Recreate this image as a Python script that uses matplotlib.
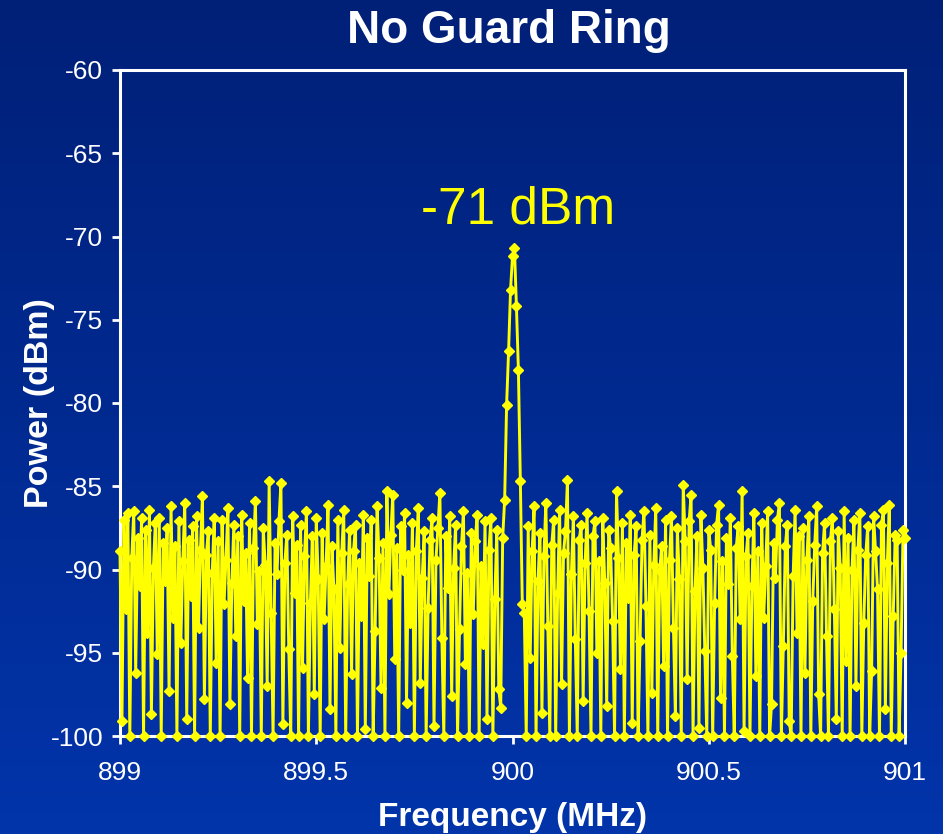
import numpy as np
import matplotlib
matplotlib.use('Agg')
import matplotlib.pyplot as plt

plt.rcParams['font.family'] = ['Liberation Sans', 'DejaVu Sans']
plt.rcParams['axes.unicode_minus'] = False

# Spectrum sweep 899-901 MHz, 401 points
freq_start = 899.0
freq_stop = 901.0
power_dbm = [
    -88.9, -99.1, -87.0, -92.4, -86.6, -100, -89.3, -86.5, -96.2, -88.1, -91.0, -86.9, -100, -87.6, -93.8, -86.4, -98.7, -89.9, -87.2, -95.1,
    -86.9, -100, -88.4, -90.7, -87.5, -97.3, -86.2, -92.9, -88.6, -100, -87.1, -94.4, -89.5, -86.0, -99.0, -88.2, -91.6, -87.4, -100, -86.8,
    -93.5, -88.8, -85.6, -97.8, -89.1, -87.7, -100, -90.2, -86.9, -95.6, -88.3, -100, -87.0, -92.1, -89.4, -86.3, -98.1, -90.8, -87.3, -94.0,
    -88.0, -100, -86.7, -91.9, -89.0, -96.5, -87.2, -100, -88.7, -85.9, -93.3, -90.1, -100, -87.5, -89.7, -97.0, -84.7, -92.6, -100, -88.4,
    -90.3, -87.1, -84.8, -99.3, -89.6, -87.9, -94.8, -100, -86.8, -91.4, -88.5, -100, -87.3, -95.9, -89.2, -86.5, -100, -92.0, -88.0, -97.5,
    -86.9, -90.6, -100, -87.8, -93.0, -89.8, -86.1, -98.4, -88.6, -91.2, -100, -87.0, -94.7, -89.0, -86.4, -100, -90.9, -87.6, -96.3, -88.9,
    -87.3, -100, -89.6, -92.8, -86.7, -99.6, -88.1, -90.4, -87.0, -100, -93.7, -86.2, -89.3, -97.1, -88.4, -100, -85.3, -91.5, -87.9, -85.5,
    -95.4, -88.7, -100, -87.4, -90.0, -86.6, -98.0, -89.1, -93.2, -87.2, -100, -88.9, -86.3, -96.8, -90.5, -87.7, -100, -92.3, -88.2, -86.9,
    -99.4, -89.4, -87.5, -85.4, -94.1, -100, -88.0, -91.1, -86.8, -97.6, -89.9, -87.3, -100, -93.6, -88.6, -86.5, -95.7, -90.2, -100, -87.8,
    -92.7, -88.3, -86.7, -100, -89.8, -94.5, -87.1, -99.0, -88.8, -86.9, -100, -91.8, -87.6, -97.2, -98.3, -88.1, -85.8, -80.1, -76.9, -73.2,
    -71.2, -70.7, -74.2, -78.0, -84.7, -92.1, -92.6, -100, -87.4, -95.3, -88.9, -86.2, -100, -90.7, -87.8, -98.6, -89.2, -86.0, -93.4, -100,
    -88.5, -87.0, -100, -91.4, -86.4, -96.9, -89.0, -87.7, -84.6, -100, -90.3, -86.8, -94.2, -100, -88.2, -87.3, -97.9, -89.6, -86.6, -92.5,
    -100, -88.0, -87.1, -95.0, -89.5, -100, -86.9, -90.8, -98.2, -87.6, -88.7, -93.1, -100, -85.3, -89.3, -96.0, -87.2, -100, -88.4, -91.7,
    -86.7, -99.2, -89.1, -87.4, -100, -94.3, -88.2, -86.5, -92.2, -100, -87.9, -97.4, -89.7, -86.3, -100, -90.1, -88.6, -95.8, -87.0, -100,
    -89.4, -86.8, -93.5, -98.8, -87.5, -90.6, -100, -84.9, -88.3, -96.6, -87.1, -85.5, -100, -91.3, -88.0, -99.5, -86.7, -89.9, -94.9, -100,
    -87.6, -88.8, -100, -92.0, -87.3, -86.1, -97.7, -89.5, -100, -88.1, -90.9, -86.9, -95.2, -100, -88.7, -87.4, -93.0, -85.3, -99.7, -89.2,
    -87.8, -100, -91.0, -86.6, -96.4, -88.9, -100, -87.2, -92.9, -89.8, -86.5, -100, -98.1, -88.4, -90.5, -87.0, -86.0, -100, -94.6, -88.6,
    -87.3, -99.1, -100, -90.4, -86.4, -93.8, -88.0, -100, -87.5, -96.2, -89.4, -86.8, -100, -91.9, -88.5, -86.2, -97.5, -100, -89.0, -87.2,
    -94.0, -100, -88.3, -86.9, -92.4, -99.0, -87.7, -89.9, -100, -86.5, -95.5, -88.1, -100, -90.0, -87.0, -97.0, -88.8, -86.6, -100, -93.2,
    -89.1, -87.4, -100, -96.1, -86.8, -88.9, -91.2, -100, -87.3, -86.4, -98.4, -89.6, -86.1, -100, -92.8, -87.9, -88.2, -100, -95.0, -87.6,
    -88.1,
]
freq_mhz = np.linspace(freq_start, freq_stop, len(power_dbm))

x_ticks = [899, 899.5, 900, 900.5, 901]
x_tick_labels = ['899', '899.5', '900', '900.5', '901']
y_ticks = [-100, -95, -90, -85, -80, -75, -70, -65, -60]

W, H = 943, 834
fig = plt.figure(figsize=(W / 100, H / 100), dpi=100)

# blue slide background, darker at the top
bg = fig.add_axes([0, 0, 1, 1], zorder=-10)
top = np.array([0, 32, 120]) / 255
bottom = np.array([2, 52, 170]) / 255
t = np.linspace(0, 1, 256)[:, None]
grad = top[None, :] * (1 - t) + bottom[None, :] * t
bg.imshow(grad[:, None, :], aspect='auto', extent=[0, 1, 0, 1])
bg.axis('off')

ax = fig.add_axes([120 / W, 1 - 736 / H, 785 / W, 666 / H])
ax.set_facecolor('none')

ax.plot(freq_mhz, power_dbm, color='#ffff00', lw=2.1, marker='D', ms=5.5,
        mec='#ffff00', mfc='#ffff00', clip_on=False, zorder=3)

ax.set_xlim(freq_start, freq_stop)
ax.set_ylim(-100, -60)
ax.set_xticks(x_ticks)
ax.set_xticklabels(x_tick_labels)
ax.set_yticks(y_ticks)

for side in ['left', 'right', 'top', 'bottom']:
    ax.spines[side].set_color('white')
    ax.spines[side].set_linewidth(2.2)
    ax.spines[side].set_zorder(2)
ax.tick_params(colors='white', labelsize=19, width=2, length=6, direction='out')
ax.tick_params(axis='x', pad=12)
ax.tick_params(axis='y', pad=6)

ax.set_xlabel('Frequency (MHz)', color='white', fontsize=24, fontweight='bold', labelpad=12)
ax.set_ylabel('Power (dBm)', color='white', fontsize=24.5, fontweight='bold')
ax.yaxis.set_label_coords(-0.083, 0.5)

fig.text(0.5 * (120 + 905) / W - 0.004, 1 - 31 / H, 'No Guard Ring', color='white',
         fontsize=33, fontweight='bold', ha='center', va='center')

# label the carrier with its peak level
peak_idx = int(np.argmax(power_dbm))
peak_val = power_dbm[peak_idx]
ax.text(freq_mhz[peak_idx] + 0.01, peak_val + 2.3, f'{round(peak_val)} dBm',
        color='#ffff00', fontsize=37, ha='center', va='center')

fig.savefig('out.png', dpi=100)
